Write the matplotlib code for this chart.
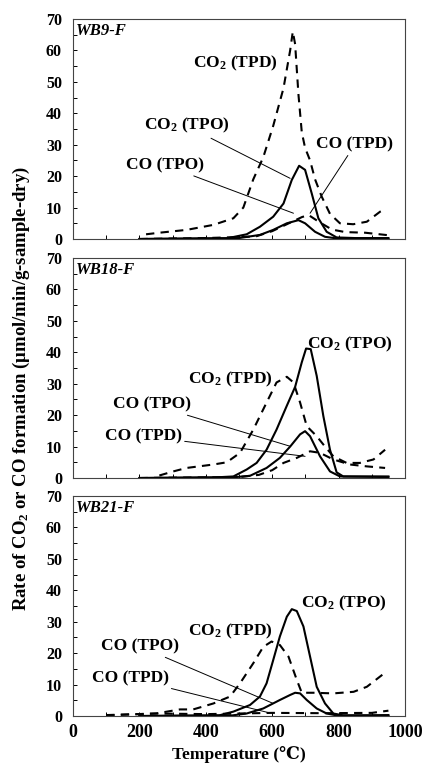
import numpy as np
import matplotlib
matplotlib.use("Agg")
import matplotlib.pyplot as plt
from matplotlib.ticker import MultipleLocator

plt.rcParams["font.family"] = ["Liberation Serif", "DejaVu Serif"]
plt.rcParams["font.weight"] = "bold"
plt.rcParams["mathtext.fontset"] = "custom"
plt.rcParams["mathtext.rm"] = "Liberation Serif:bold"
plt.rcParams["mathtext.default"] = "rm"

panel_names = ["WB9-F", "WB18-F", "WB21-F"]

# ---- WB9-F ----
wb9_co2_tpd_t = [220, 260, 342, 423, 483, 513, 543, 573, 603, 634, 654, 662, 669, 679, 689, 699, 714, 729, 749, 774, 804, 844, 885, 925, 940]
wb9_co2_tpd_v = [1.5, 2.0, 2.9, 4.5, 6.6, 10, 19, 26, 36, 48, 60, 66, 62, 46, 34, 29, 25, 19, 13.5, 8, 5, 4.7, 5.5, 8.7, 9.5]
wb9_co2_tpo_t = [200, 463, 523, 563, 603, 634, 659, 681, 699, 719, 739, 764, 794, 850, 950]
wb9_co2_tpo_v = [0, 0.2, 1.5, 3.9, 7.1, 11.3, 18.8, 23.3, 22, 14.5, 6.6, 2.3, 0.5, 0.3, 0.3]
wb9_co_tpo_t = [200, 500, 563, 603, 644, 679, 699, 729, 759, 800, 950]
wb9_co_tpo_v = [0, 0.3, 1.3, 2.9, 5.0, 6.0, 5.0, 2.3, 0.7, 0.1, 0]
wb9_co_tpd_t = [200, 400, 550, 600, 650, 690, 710, 740, 780, 820, 880, 950]
wb9_co_tpd_v = [0, 0.3, 0.8, 2.5, 5.0, 7.0, 7.6, 5.5, 3.0, 2.2, 2.0, 1.2]

# ---- WB18-F ----
wb18_co2_tpd_t = [260, 302, 342, 423, 463, 503, 543, 583, 613, 644, 664, 684, 704, 734, 759, 784, 824, 864, 905, 940]
wb18_co2_tpd_v = [0.8, 2.1, 3.2, 4.3, 5.0, 8, 15.4, 24, 30.4, 32.2, 30.4, 24, 16.5, 13.3, 10, 6.9, 4.8, 4.8, 5.9, 9]
wb18_co2_tpo_t = [200, 430, 483, 523, 553, 583, 613, 644, 669, 689, 702, 716, 734, 754, 774, 794, 814, 950]
wb18_co2_tpo_v = [0, 0.2, 0.5, 2.7, 4.8, 9, 15.4, 23, 29, 36.8, 41.2, 41, 32.5, 19.7, 9, 1.8, 0.5, 0.5]
wb18_co_tpo_t = [200, 480, 533, 583, 623, 654, 684, 699, 714, 744, 774, 804, 950]
wb18_co_tpo_v = [0, 0.2, 0.7, 3.2, 6.4, 10, 13.9, 14.9, 13.3, 6.9, 2.1, 0.5, 0.3]
wb18_co_tpd_t = [200, 500, 560, 600, 634, 674, 714, 744, 784, 834, 885, 940]
wb18_co_tpd_v = [0, 0.3, 1.0, 2.5, 4.8, 6.4, 8.5, 8.0, 5.9, 4.3, 3.7, 3.2]

# ---- WB21-F ----
wb21_co2_tpd_t = [100, 250, 322, 362, 423, 473, 503, 543, 573, 598, 623, 649, 674, 689, 724, 784, 845, 885, 940]
wb21_co2_tpd_v = [0.3, 0.8, 2.1, 2.1, 4.0, 6.2, 10.4, 16.8, 22, 23.7, 22.6, 18.9, 11.5, 7.4, 7.4, 7.2, 7.7, 9.3, 13.8]
wb21_co2_tpo_t = [200, 440, 483, 533, 563, 583, 603, 623, 644, 659, 674, 694, 714, 734, 759, 784, 814, 950]
wb21_co2_tpo_v = [0, 0.2, 1.4, 3.5, 6.2, 10.4, 17.8, 25.3, 31.6, 34, 33.4, 28.5, 18.9, 9.3, 4.0, 0.8, 0.2, 0.3]
wb21_co_tpo_t = [200, 480, 523, 573, 623, 654, 669, 684, 704, 734, 764, 794, 950]
wb21_co_tpo_v = [0, 0.2, 0.8, 2.4, 5.1, 6.7, 7.4, 7.2, 5.1, 2.4, 0.8, 0.2, 0]
wb21_co_tpd_t = [100, 250, 400, 600, 750, 900, 950]
wb21_co_tpd_v = [0.2, 0.8, 0.6, 1.0, 0.9, 1.0, 1.7]

panels = [
    [(wb9_co2_tpd_t, wb9_co2_tpd_v, "--"), (wb9_co_tpd_t, wb9_co_tpd_v, "--"),
     (wb9_co2_tpo_t, wb9_co2_tpo_v, "-"), (wb9_co_tpo_t, wb9_co_tpo_v, "-")],
    [(wb18_co2_tpd_t, wb18_co2_tpd_v, "--"), (wb18_co_tpd_t, wb18_co_tpd_v, "--"),
     (wb18_co2_tpo_t, wb18_co2_tpo_v, "-"), (wb18_co_tpo_t, wb18_co_tpo_v, "-")],
    [(wb21_co2_tpd_t, wb21_co2_tpd_v, "--"), (wb21_co_tpd_t, wb21_co_tpd_v, "--"),
     (wb21_co2_tpo_t, wb21_co2_tpo_v, "-"), (wb21_co_tpo_t, wb21_co_tpo_v, "-")],
]

# labels: (text, text position, point on curve or None)
labels = [
    [("CO$_2$ (TPD)", (488, 56), None),
     ("CO$_2$ (TPO)", (342, 36), (654, 19.3)),
     ("CO (TPO)", (277, 23.5), (664, 8.2)),
     ("CO (TPD)", (849, 30), (714, 8.2))],
    [("CO$_2$ (TPO)", (834, 42.4), None),
     ("CO$_2$ (TPD)", (473, 31.4), None),
     ("CO (TPO)", (237, 23.4), (654, 10.1)),
     ("CO (TPD)", (212, 13.3), (699, 6.9))],
    [("CO$_2$ (TPO)", (814, 35.9), None),
     ("CO$_2$ (TPD)", (473, 26.9), None),
     ("CO (TPO)", (202, 22.1), (603, 4.0)),
     ("CO (TPD)", (172, 12.0), (588, 1.1))],
]

fig = plt.figure(figsize=(4.23, 7.69), dpi=100)
bottoms = [0.6892, 0.3784, 0.0689]
height = 0.2861
for i, (name, series, labs) in enumerate(zip(panel_names, panels, labels)):
    ax = fig.add_axes([0.1726, bottoms[i], 0.7849, height])
    for t, v, ls in series:
        if ls == "--":
            ax.plot(t, v, color="black", lw=1.5, linestyle=(0, (4, 3)))
        else:
            ax.plot(t, v, color="black", lw=1.5)
    for text, xyt, xy in labs:
        if xy is None:
            ax.text(xyt[0], xyt[1], text, ha="center", va="center", fontsize=12.5, fontweight="bold")
        else:
            ax.annotate(text, xy=xy, xytext=xyt, ha="center", va="center",
                        fontsize=12.5, fontweight="bold",
                        arrowprops=dict(arrowstyle="-", color="black", lw=0.7, shrinkA=0, shrinkB=0))
    ax.text(10, 66.3, name, fontsize=12, fontweight="bold", fontstyle="italic", va="center")
    ax.set_xlim(0, 1000)
    ax.set_ylim(0, 70)
    ax.xaxis.set_major_locator(MultipleLocator(200))
    ax.xaxis.set_minor_locator(MultipleLocator(100))
    ax.yaxis.set_major_locator(MultipleLocator(10))
    ax.yaxis.set_minor_locator(MultipleLocator(5))
    ax.tick_params(which="both", direction="in", top=False, right=False, length=3, width=0.7)
    ax.tick_params(axis="y", labelsize=11.5, pad=8)
    ax.tick_params(axis="x", labelsize=13, pad=6)
    for s in ax.spines.values():
        s.set_linewidth(0.8)
        s.set_color("#444444")
    if i < 2:
        ax.set_xticklabels([])
    else:
        ax.set_xlabel("Temperature (℃)", fontsize=12.5, fontweight="bold", labelpad=3)

fig.text(0.05, 0.495, "Rate of CO$_2$ or CO formation (μmol/min/g-sample-dry)",
         rotation=90, ha="center", va="center", fontsize=13.5, fontweight="bold")

fig.savefig("out.png", dpi=100)
